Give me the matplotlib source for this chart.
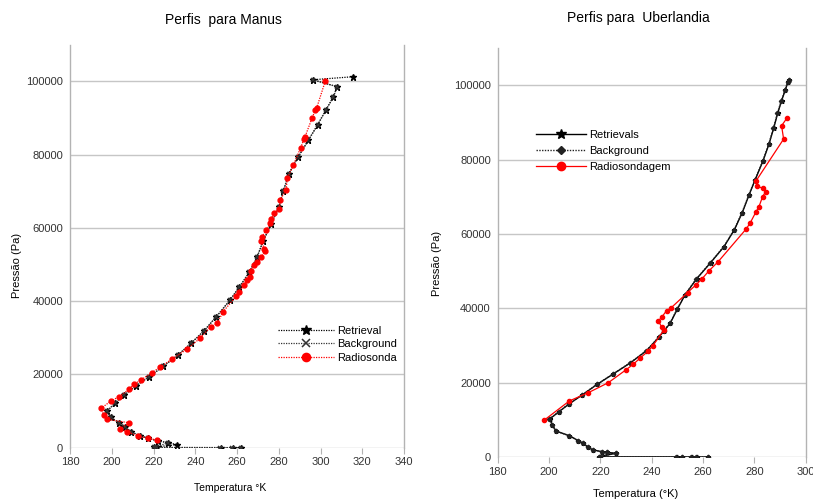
import matplotlib.pyplot as plt

plt.rcParams['font.family'] = ['Liberation Sans', 'DejaVu Sans']

# Manus profiles: temperature (K) and pressure (Pa)
manus_ret_T = [315.6, 296.3, 308.0, 306.1, 302.6, 298.7, 294.2, 289.4, 284.8, 282.2,
               280.0, 276.4, 272.6, 269.6, 265.9, 261.0, 256.6, 250.1, 244.3, 238.0,
               231.6, 224.7, 218.0, 211.5, 206.0, 201.6, 197.9, 199.6, 203.5, 206.5,
               209.2, 213.5, 217.5, 222.3, 227.1, 231.4, 221.5, 220.4, 252.2, 257.9, 261.8]
manus_ret_P = [101230, 100410, 98500, 95610, 92140, 88130, 83870, 79400, 74760, 69960,
               65590, 61040, 56400, 51950, 47860, 43770, 40200, 35740, 31920, 28490,
               25210, 22210, 19370, 16830, 14380, 12110, 10100, 8290, 6820, 5650,
               4370, 3270, 2560, 1830, 1360, 820, 270, 60, 30, 20, 10]

manus_bg_T = [296.3, 308.0, 306.0, 302.5, 298.6, 294.1, 289.3, 284.8, 282.1,
              279.9, 276.3, 272.5, 269.5, 265.8, 261.0, 256.5, 250.0, 244.2, 237.9,
              231.5, 224.6, 217.9, 211.4, 205.9, 201.5, 197.8, 199.5, 203.4, 206.4,
              209.1, 213.4, 217.4, 222.2, 227.0, 221.4, 220.3, 252.0, 257.8, 261.7]
manus_bg_P = [100410, 98500, 95610, 92140, 88130, 83870, 79400, 74760, 69960,
              65590, 61040, 56400, 51950, 47860, 43770, 40200, 35740, 31920, 28490,
              25210, 22210, 19370, 16830, 14380, 12110, 10100, 8290, 6820, 5650,
              4370, 3270, 2560, 1830, 1360, 270, 60, 30, 20, 10]

manus_rs_T = [302.3, 298.2, 297.5, 295.9, 292.6, 292.1, 290.5, 287.0, 284.1, 283.5,
              280.6, 280.3, 277.7, 276.4, 275.9, 273.9, 272.0, 271.6, 273.1, 273.4,
              271.5, 269.7, 268.1, 266.6, 266.1, 264.6, 263.2, 261.1, 259.7, 253.3,
              250.6, 247.4, 242.3, 235.9, 228.7, 223.1, 219.1, 214.0, 210.8, 208.3,
              203.5, 199.6, 194.9, 196.1, 197.6, 208.1, 204.0, 207.1, 212.4, 217.5, 221.5]
manus_rs_P = [100050, 92770, 92140, 89870, 84860, 84230, 81860, 77140, 73500, 70260,
              67580, 65050, 64120, 62320, 61230, 59400, 57570, 56400, 54300, 53590,
              51950, 50750, 49770, 48300, 46660, 45760, 44390, 42400, 41390, 37100,
              33940, 33020, 29850, 26850, 24120, 21940, 20460, 18470, 17380, 15930,
              13920, 12740, 10750, 8920, 7750, 6820, 5100, 4370, 3270, 2560, 2100]

# Uberlandia profiles
uber_ret_T = [293.5, 293.1, 292.0, 290.6, 289.1, 287.5, 285.7, 283.4, 280.3, 277.9,
              275.3, 272.2, 268.2, 263.0, 257.5, 253.0, 250.0, 247.2, 244.9, 242.8,
              238.0, 231.8, 225.0, 218.8, 212.9, 207.8, 203.9, 200.2, 201.3, 202.7,
              207.9, 211.4, 213.3, 215.3, 217.2, 220.7, 222.5, 226.0, 219.9, 219.4,
              249.7, 251.9, 255.6, 257.5, 262.1]
uber_ret_P = [101550, 101010, 98670, 95890, 92580, 88430, 84230, 79730, 74600, 70490,
              65800, 61140, 56650, 52340, 47950, 43640, 39790, 36000, 34020, 32240,
              28620, 25390, 22340, 19570, 16690, 14270, 12200, 10200, 8600, 7000,
              5740, 4390, 3690, 2610, 1890, 1430, 1270, 1000, 120, 30,
              20, 15, 10, 8, 5]

uber_bg_T = [293.4, 293.0, 291.9, 290.5, 289.0, 287.4, 285.6, 283.3, 280.2, 277.8,
             275.2, 272.1, 268.1, 262.9, 257.4, 252.9, 249.9, 247.1, 244.8, 242.7,
             237.9, 231.7, 224.9, 218.7, 212.8, 207.7, 203.8, 200.1, 201.2, 202.6,
             207.8, 211.3, 213.2, 215.2, 217.1, 220.6, 222.4, 225.9, 219.8, 219.3,
             249.6, 251.8, 255.5, 257.4, 262.0]
uber_bg_P = uber_ret_P

uber_rs_T = [292.7, 290.6, 291.4, 280.5, 281.1, 283.2, 284.4, 283.2, 281.8, 280.6,
             278.3, 276.7, 265.9, 262.4, 259.5, 257.1, 254.0, 247.4, 245.8, 243.9,
             242.6, 243.9, 244.8, 240.4, 238.7, 235.4, 232.8, 229.9, 223.1, 215.3,
             207.9, 198.2]
uber_rs_P = [91230, 89160, 85580, 74150, 72810, 72380, 71410, 70070, 67380, 65950,
             62900, 61290, 52570, 50180, 47870, 46250, 44260, 40050, 39400, 37630,
             36630, 34930, 34210, 29900, 28550, 26570, 24950, 23420, 20000, 17310,
             15080, 9960]

W, H = 813, 499
fig = plt.figure(figsize=(W / 100, H / 100), dpi=100)

ax1 = fig.add_axes([70 / W, 1 - 447.7 / H, 334 / W, 403.1 / H])
ax2 = fig.add_axes([497.7 / W, 1 - 457 / H, 308 / W, 408.7 / H])

grid_c = '#c6c6c6'
for ax in (ax1, ax2):
    ax.set_ylim(0, 110000)
    ax.set_yticks(range(0, 110000, 20000))
    ax.grid(axis='y', color=grid_c, lw=1)
    ax.set_axisbelow(True)
    for s in ('top', 'bottom'):
        ax.spines[s].set_visible(False)
    for s in ('left', 'right'):
        ax.spines[s].set_color('#b3b3b3')
        ax.spines[s].set_linewidth(1)
    ax.tick_params(axis='x', colors='#b3b3b3', labelcolor='#333333', length=4,
                   labelsize=8, pad=3)
    ax.tick_params(axis='y', colors='#b3b3b3', labelcolor='#333333', length=0,
                   labelsize=8, pad=5)

# Manus
ax1.set_xlim(180, 340)
ax1.set_xticks(range(180, 341, 20))
ax1.plot(manus_ret_T, manus_ret_P, color='black', ls=(0, (1, 1)), lw=0.9,
         marker='*', ms=4.5, label='Retrieval')
ax1.plot(manus_bg_T, manus_bg_P, color='#333333', ls=(0, (1, 1)), lw=0.9,
         marker='x', ms=3.5, mew=1.1, label='Background')
ax1.plot(manus_rs_T, manus_rs_P, color='red', ls=(0, (1, 1)), lw=0.9,
         marker='o', ms=3.5, label='Radiosonda')
ax1.legend(loc='upper left', bbox_to_anchor=(268 / W, 1 - 316 / H),
           bbox_transform=fig.transFigure, frameon=False, fontsize=8,
           handlelength=5, labelspacing=0.3, handletextpad=0.3, markerscale=1.7)

# Uberlandia
ax2.set_xlim(180, 300)
ax2.set_xticks(range(180, 301, 20))
ax2.plot(uber_ret_T, uber_ret_P, color='black', lw=1, marker='*', ms=3.5,
         label='Retrievals')
ax2.plot(uber_bg_T, uber_bg_P, color='#222222', ls=(0, (1, 1)), lw=1,
         marker='D', ms=2.2, label='Background')
ax2.plot(uber_rs_T, uber_rs_P, color='red', lw=0.9, marker='o', ms=3,
         label='Radiosondagem')
ax2.legend(loc='upper left', bbox_to_anchor=(526 / W, 1 - 120 / H),
           bbox_transform=fig.transFigure, frameon=False, fontsize=8,
           handlelength=4.5, labelspacing=0.55, handletextpad=0.3, markerscale=2)

fig.text(223 / W, 1 - 20 / H, 'Perfis  para Manus', ha='center', va='center', fontsize=10)
fig.text(638 / W, 1 - 18 / H, 'Perfis para  Uberlandia', ha='center', va='center', fontsize=10)
fig.text(17 / W, 1 - 265 / H, 'Pressão (Pa)', rotation=90, ha='center', va='center', fontsize=8)
fig.text(437 / W, 1 - 263 / H, 'Pressão (Pa)', rotation=90, ha='center', va='center', fontsize=8)
fig.text(230 / W, 1 - 488 / H, 'Temperatura °K', ha='center', va='center', fontsize=7.5)
fig.text(636 / W, 1 - 494 / H, 'Temperatura (°K)', ha='center', va='center', fontsize=8)

fig.savefig('out.png', dpi=100)
